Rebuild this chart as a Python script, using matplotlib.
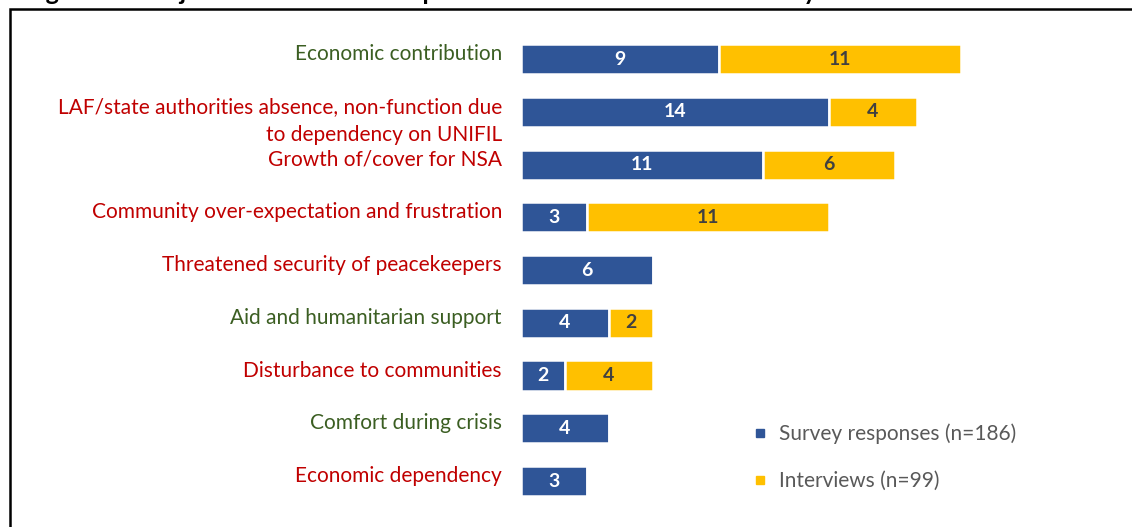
import matplotlib
matplotlib.use("Agg")
import matplotlib.pyplot as plt
from matplotlib.lines import Line2D
from matplotlib.patches import Rectangle
from matplotlib.transforms import ScaledTranslation

plt.rcParams['font.family'] = ['Lato', 'DejaVu Sans']

categories = [
    "Economic contribution",
    "LAF/state authorities absence, non-function due\nto dependency on UNIFIL",
    "Growth of/cover for NSA",
    "Community over-expectation and frustration",
    "Threatened security of peacekeepers",
    "Aid and humanitarian support",
    "Disturbance to communities",
    "Comfort during crisis",
    "Economic dependency",
]
survey = [9, 14, 11, 3, 6, 4, 2, 4, 3]
interviews = [11, 4, 6, 11, 0, 2, 4, 0, 0]
positive = [True, False, False, False, False, True, False, True, False]

BLUE = "#2F5597"
GOLD = "#FFC000"
GREEN = "#3B5E22"
RED = "#C00000"

fig = plt.figure(figsize=(11.32, 5.27), dpi=100)
ax = fig.add_axes([0.4602, 0.0372, 0.4665, 0.9008])

ypos = list(range(len(categories)))
b1 = ax.barh(ypos, survey, height=0.57, color=BLUE, edgecolor="white", linewidth=1.8)
b2 = ax.barh(ypos, interviews, left=survey, height=0.57, color=GOLD, edgecolor="white", linewidth=1.8)

for rect, v in zip(b1, survey):
    if v:
        ax.text(rect.get_x() + rect.get_width() / 2, rect.get_y() + rect.get_height() / 2, str(v),
                ha="center", va="center", color="white", fontsize=14, fontweight="bold")
for rect, v in zip(b2, interviews):
    if v:
        ax.text(rect.get_x() + rect.get_width() / 2, rect.get_y() + rect.get_height() / 2, str(v),
                ha="center", va="center", color="#404040", fontsize=14, fontweight="bold")

ax.set_xlim(0, 24)
ax.set_ylim(len(categories) - 0.5, -0.5)
ax.set_xticks([])
ax.set_yticks([])
for s in ax.spines.values():
    s.set_visible(False)

# category names, first line sitting just above the bar centre
lab_tr = ax.get_yaxis_transform() + ScaledTranslation(0, 10.7 / 72, fig.dpi_scale_trans)
for y, name, pos in zip(ypos, categories, positive):
    ax.text(-0.036, y, name, transform=lab_tr, ha="right", va="top",
            fontsize=15, linespacing=1.5, color=GREEN if pos else RED)

handles = [Line2D([], [], marker="s", linestyle="none", color=BLUE, markersize=6),
           Line2D([], [], marker="s", linestyle="none", color=GOLD, markersize=6)]
leg = fig.legend(handles, ["Survey responses (n=186)", "Interviews (n=99)"],
                 loc="upper left", bbox_to_anchor=(0.6497, 0.232), frameon=False,
                 fontsize=15, handlelength=0.6, handletextpad=0.6, labelspacing=1.3)
for t in leg.get_texts():
    t.set_color("#595959")

# outer frame, open to the right and bottom edges
fig.patches.append(Rectangle((9.5 / 1132, -0.05), 1.1, 1 - 8.5 / 527 + 0.05,
                             transform=fig.transFigure, fill=False,
                             edgecolor="black", linewidth=1.8))
fig.text(25 / 1132, 1 + 0.5 / 527, "Figure 11: Major unintended consequences from interviews and survey",
         fontsize=18, fontweight="bold", va="baseline", ha="left", color="black")

fig.savefig("out.png", dpi=100)
